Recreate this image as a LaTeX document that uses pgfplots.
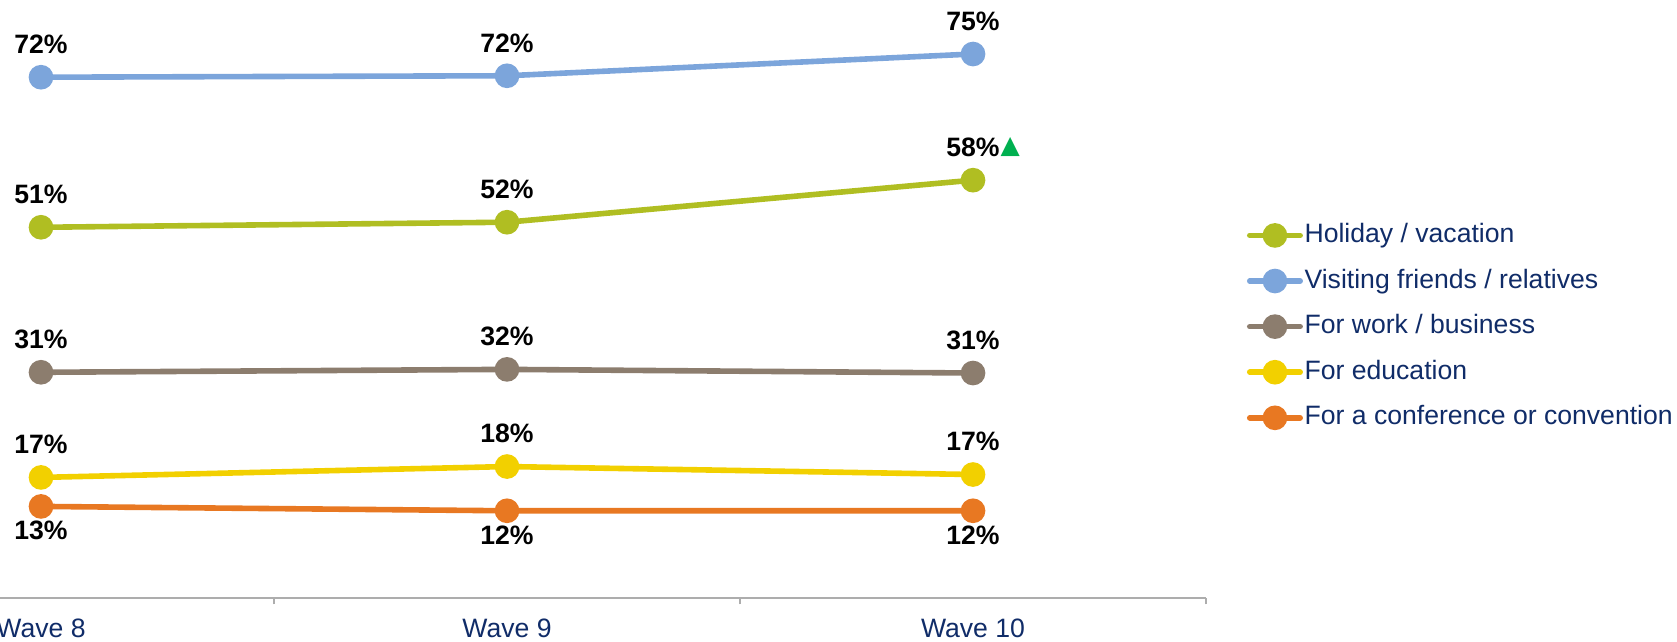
\documentclass[border=0pt]{standalone}
\usepackage{pgfplots}
\pgfplotsset{compat=1.18}
\usepackage{fontspec}
\setmainfont{Liberation Sans}
\newfontfamily\symfont{DejaVu Sans}

\definecolor{holiday}{HTML}{B0BE22}
\definecolor{visiting}{HTML}{7CA5DB}
\definecolor{work}{HTML}{8C7D6E}
\definecolor{education}{HTML}{F2D000}
\definecolor{conference}{HTML}{E87822}
\definecolor{navy}{HTML}{102C68}
\definecolor{axisgray}{HTML}{ADADAD}
\definecolor{upgreen}{HTML}{00B050}

\newcommand{\up}{\raisebox{1.6pt}{\symfont\fontsize{12.5}{12.5}\selectfont\color{upgreen}▲}}

\begin{document}
\begin{tikzpicture}
\begin{axis}[
    width=699pt, height=299.25pt, scale only axis,
    xmin=-0.5, xmax=2.5, ymin=0, ymax=82.55,
    enlargelimits=false, clip=false,
    axis x line*=bottom, axis y line=none,
    x axis line style={draw=axisgray, line width=1pt, -},
    xtick={0,1,2}, xticklabels={Wave 8, Wave 9, Wave 10},
    xtick pos=left,
    major tick length=0pt,
    extra x ticks={-0.5,0.5,1.5,2.5}, extra x tick labels={},
    extra x tick style={major tick length=3pt, tick align=outside,
        major tick style={draw=axisgray, line width=0.6pt}},
    xticklabel style={anchor=base, yshift=-19.4pt,
        font=\fontsize{13.3}{16}\selectfont, text=navy},
    ytick=\empty,
    every axis plot/.append style={line width=2.8pt, mark=*, mark size=4.75pt,
        mark options={draw=none}},
    point meta=explicit symbolic,
    nodes near coords,
    every node near coord/.style={font=\bfseries\fontsize{13.3}{16}\selectfont,
        text=black, anchor=base, yshift=11.85pt},
    legend style={at={(axis cs:2.587,37.5)}, anchor=west, draw=none, fill=none,
        inner sep=0pt, font=\fontsize{13.3}{16}\selectfont, text=navy,
        row sep=9.8pt, column sep=0.8pt,
        nodes={inner sep=0pt, text height=10pt, text depth=3pt}},
    legend cell align=left,
    legend image code/.code={
        \draw[mark repeat=2, mark phase=2, line cap=round, #1]
            plot coordinates {(1.4pt,0pt) (14pt,0pt) (26.6pt,0pt)};},
]
\addplot[color=holiday] coordinates {
    (0,51.2)[51\%] (1,51.9)[52\%] (2,57.7)[58\%\rlap{\hspace{0.5pt}\up}]
};
\addlegendentry{Holiday / vacation}
\addplot[color=visiting] coordinates {
    (0,71.9)[72\%] (1,72.1)[72\%] (2,75.1)[75\%]
};
\addlegendentry{Visiting friends / relatives}
\addplot[color=work] coordinates {
    (0,31.2)[31\%] (1,31.6)[32\%] (2,31.1)[31\%]
};
\addlegendentry{For work / business}
\addplot[color=education] coordinates {
    (0,16.7)[17\%] (1,18.2)[18\%] (2,17.1)[17\%]
};
\addlegendentry{For education}
\addplot[color=conference,
    every node near coord/.style={font=\bfseries\fontsize{13.3}{16}\selectfont,
        text=black, anchor=base, yshift=-16.65pt}] coordinates {
    (0,12.7)[13\%] (1,12.1)[12\%] (2,12.1)[12\%]
};
\addlegendentry{For a conference or convention}
\coordinate (bl) at (axis cs:-0.08798,-5.862);
\coordinate (tr) at (axis cs:3.5107,82.55);
\end{axis}
\pgfresetboundingbox
\path[use as bounding box] (bl) rectangle (tr);
\end{tikzpicture}
\end{document}
